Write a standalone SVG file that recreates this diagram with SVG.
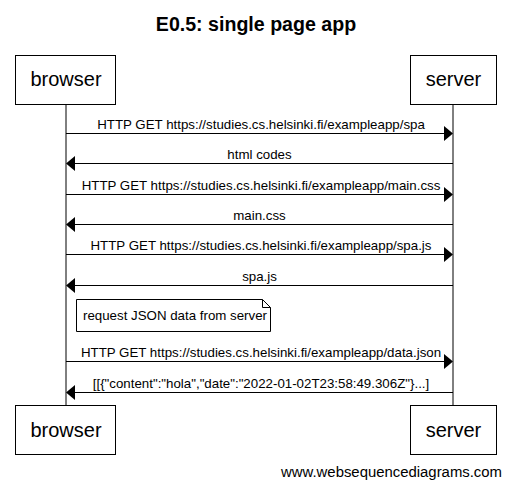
<svg xmlns="http://www.w3.org/2000/svg" width="511" height="488" viewBox="0 0 511 488">
<style>
text{font-family:"Liberation Sans",Arial,sans-serif;fill:#000}
.t{font-size:19.6px;font-weight:bold;text-anchor:middle}
.p{font-size:20px;text-anchor:middle}
.m{font-size:13.3px;text-anchor:middle}
.n{font-size:13.3px}
.w{font-size:14.9px;text-anchor:end}
.box{fill:#fff;stroke:#000;stroke-width:1}
.ln{stroke:#000;stroke-width:1;fill:none}
.ah{fill:#000}
</style>
<rect width="511" height="488" fill="#fff"/>
<text class="t" x="256" y="31">E0.5: single page app</text>
<g id="lifelines">
<line class="ln" x1="66" y1="104" x2="66" y2="405"/>
<line class="ln" x1="453" y1="104" x2="453" y2="405"/>
</g>
<g id="browser">
<rect class="box" x="15.5" y="55.5" width="100" height="49"/>
<text class="p" x="66" y="86">browser</text>
<rect class="box" x="15.5" y="405.5" width="100" height="49"/>
<text class="p" x="66" y="437">browser</text>
</g>
<g id="server">
<rect class="box" x="410.5" y="55.5" width="86" height="49"/>
<text class="p" x="453.5" y="86">server</text>
<rect class="box" x="410.5" y="405.5" width="86" height="49"/>
<text class="p" x="453.5" y="437">server</text>
</g>
<g id="note">
<path class="box" d="M76.5,299.5 H262.5 L270.5,307.5 V331.5 H76.5 Z"/>
<path class="ln" d="M262.5,299.5 V307.5 H270.5"/>
<text class="n" x="83" y="320">request JSON data from server</text>
</g>
<g id="connectors">
<line class="ln" x1="66" y1="133.5" x2="445" y2="133.5"/>
<polygon class="ah" points="444,126 453,133.5 444,141"/>
<text class="m" x="261" y="129">HTTP GET https://studies.cs.helsinki.fi/exampleapp/spa</text>
<line class="ln" x1="74" y1="163.5" x2="453" y2="163.5"/>
<polygon class="ah" points="75,156 66,163.5 75,171"/>
<text class="m" x="259.5" y="159">html codes</text>
<line class="ln" x1="66" y1="194.5" x2="445" y2="194.5"/>
<polygon class="ah" points="444,187 453,194.5 444,202"/>
<text class="m" x="261" y="190">HTTP GET https://studies.cs.helsinki.fi/exampleapp/main.css</text>
<line class="ln" x1="74" y1="224.5" x2="453" y2="224.5"/>
<polygon class="ah" points="75,217 66,224.5 75,232"/>
<text class="m" x="259.5" y="220">main.css</text>
<line class="ln" x1="66" y1="254.5" x2="445" y2="254.5"/>
<polygon class="ah" points="444,247 453,254.5 444,262"/>
<text class="m" x="261" y="250">HTTP GET https://studies.cs.helsinki.fi/exampleapp/spa.js</text>
<line class="ln" x1="74" y1="285.5" x2="453" y2="285.5"/>
<polygon class="ah" points="75,278 66,285.5 75,293"/>
<text class="m" x="259.5" y="281">spa.js</text>
<line class="ln" x1="66" y1="361.5" x2="445" y2="361.5"/>
<polygon class="ah" points="444,354 453,361.5 444,369"/>
<text class="m" x="261" y="357">HTTP GET https://studies.cs.helsinki.fi/exampleapp/data.json</text>
<line class="ln" x1="74" y1="392.5" x2="453" y2="392.5"/>
<polygon class="ah" points="75,385 66,392.5 75,400"/>
<text class="m" x="261" y="388">[[{"content":"hola","date":"2022-01-02T23:58:49.306Z"}...]</text>
</g>
<text class="w" x="502" y="477">www.websequencediagrams.com</text>
</svg>
